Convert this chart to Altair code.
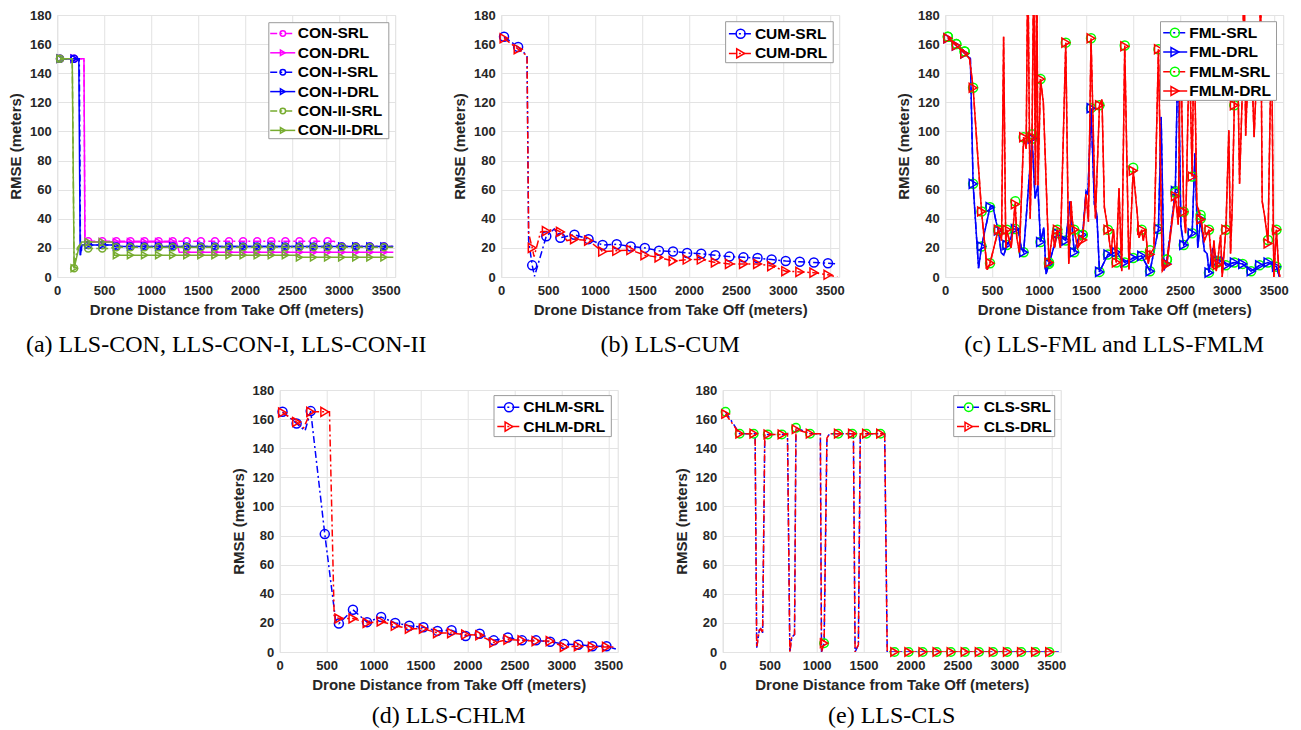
import altair as alt
import pandas as pd

# ------------------------------------------------------------------ data
X_MARK = [30, 180, 330, 480, 630, 780, 930, 1080, 1230, 1380, 1530, 1680,
          1830, 1980, 2130, 2280, 2430, 2580, 2730, 2880, 3030, 3180, 3330, 3480]

# (a) LLS-CON family
CON_SRL_Y = [150, 150, 24.5, 24.5, 24.5, 24.5, 24.5, 24.5, 24.5, 24.5, 24.5, 24.5,
             24.5, 24.5, 24.5, 24.5, 24.5, 24.5, 24.5, 24.5, 21, 21, 21, 21]
CON_SRL_EXTRA = [(285, 150), (295, 24.5), (2950, 24.5), (2990, 21), (3580, 21)]
CON_DRL_Y = [150, 150, 24, 24, 24, 24, 24, 24, 24, 17, 17, 17,
             17, 17, 17, 17, 17, 17, 17, 17, 17, 17, 17, 17]
CON_DRL_EXTRA = [(285, 150), (295, 24), (1270, 24), (1300, 17), (3580, 17)]
CON_I_SRL_Y = [150, 150, 22, 22, 21, 21, 21, 21, 21, 21, 21, 21,
               21, 21, 21, 21, 21, 21, 21, 21, 21, 21, 21, 21]
CON_I_SRL_EXTRA = [(235, 150), (248, 15), (270, 22), (600, 22), (615, 21), (3580, 21)]
CON_I_DRL_Y = [150, 150, 22, 22, 21, 21, 21, 21, 21, 21, 21, 21,
               21, 21, 21, 21, 21, 21, 21, 21, 21, 21, 21, 21]
CON_I_DRL_EXTRA = [(230, 150), (245, 15), (265, 22), (590, 22), (610, 21), (3580, 21)]
CON_II_SRL_Y = [150, 6, 19.5, 19.5, 20.5, 20.5, 20.5, 20.5, 20.5, 20.5, 20.5, 20.5,
                20.5, 20.5, 20.5, 20.5, 20.5, 20.5, 20.5, 20.5, 20.5, 20.5, 20.5, 20.5]
CON_II_SRL_EXTRA = [(160, 150), (215, 20), (250, 23), (560, 19.5), (600, 20.5), (3580, 20.5)]
CON_II_DRL_Y = [150, 6, 24, 24, 15, 15, 15, 15, 15, 15, 15, 15,
                15, 15, 15, 15, 15, 13.5, 13.5, 13.5, 13.5, 13.5, 13.5, 13.5]
CON_II_DRL_EXTRA = [(160, 150), (230, 20), (260, 24), (590, 24), (610, 15),
                    (2540, 15), (2570, 13.5), (3580, 13.5)]

# (b) LLS-CUM
CUM_SRL_Y = [165, 158, 8, 28, 27, 29, 26, 22, 22.5, 21, 20, 18,
             17.5, 16.5, 16, 15, 14, 13.5, 13, 12, 11, 10.5, 10, 9.5]
CUM_SRL_EXTRA = [(275, 152), (292, 25), (355, 0.5), (565, 33), (3580, 9)]
CUM_DRL_Y = [164, 156.5, 20, 31.5, 31, 26, 25, 17.5, 18, 18.5, 15, 13.5,
             11, 12, 12, 10, 9, 9, 9, 7.5, 4, 3.5, 3, 1.5]
CUM_DRL_EXTRA = [(275, 152), (292, 30), (350, 14), (420, 31), (560, 33), (700, 25), (3580, 0)]

# (c) LLS-FML and LLS-FMLM
X_MARK_C = [28, 118, 207, 297, 387, 477, 566, 656, 746, 835, 925, 1015, 1105, 1194,
            1284, 1374, 1464, 1553, 1643, 1733, 1822, 1912, 2002, 2092, 2181, 2271,
            2361, 2451, 2540, 2630, 2720, 2809, 2899, 2989, 3079, 3168, 3258, 3348,
            3438, 3528]
FML_SRL_Y = [165, 160, 155, 64, 21, 48, 32, 22, 33, 17, 95, 24, 9, 30, 25, 17, 29, 116,
             3.5, 15.5, 17, 10, 13, 14.5, 4, 33, 12, 59, 22, 30, 40, 3, 11, 8, 10, 9,
             4, 8, 10, 7]
FML_DRL_Y = [164, 159, 153.5, 64, 21, 48, 32, 22, 33, 17, 95, 24, 9, 30, 25, 17, 29, 116,
             3.5, 15.5, 17, 10, 13, 14.5, 4, 33, 9, 59, 22, 30, 40, 3, 11, 8, 10, 9,
             4, 8, 10, 7]
FML_EXTRA = [(268, 150), (355, 6), (507, 48.8), (542, 38), (596, 16.7), (624, 15),
             (702, 27), (722, 33), (780, 32), (810, 20), (957, 54), (986, 63), (1050, 34),
             (1074, 2), (1163, 22), (1330, 52), (1420, 27), (1500, 59), (1520, 57),
             (1589, 50), (1615, 43), (2300, 110), (2330, 4.6), (2480, 160), (2510, 35),
             (2660, 85), (2690, 20), (2760, 18), (2790, 16), (2850, 20), (2940, 14),
             (3560, 0)]
FMLM_SRL_Y = [165, 160, 155, 130, 45, 9.5, 32.5, 32.5, 52, 96, 98, 136, 10, 32.5, 161,
              32.5, 29, 164, 118, 32.5, 10, 159, 75, 32.5, 18.3, 156.5, 12, 58, 44.8, 69,
              42.6, 32.5, 10, 32.5, 118, 135, 160, 128, 25.4, 32.5]
FMLM_DRL_Y = [164, 159, 153.5, 130, 45, 9.5, 32.5, 32.5, 50, 96, 96, 136, 10, 32.5, 161,
              32.5, 25.5, 164, 118, 32.5, 10, 158.5, 73, 32.5, 15.5, 156.5, 8.7, 55.5,
              44.8, 69, 39.5, 32.5, 8.5, 32.5, 118, 135, 160, 128, 23, 32.5]
FMLM_EXTRA = [(259, 150), (447, 5), (600, 25), (622, 165), (645, 20), (702, 20),
              (762, 27), (790, 17), (862, 88), (880, 220), (905, 40), (943, 220),
              (961, 63), (975, 220), (988, 63), (1045, 120), (1145, 32), (1165, 20),
              (1227, 20), (1316, 9), (1340, 52), (1355, 38), (1410, 20), (1500, 57),
              (1525, 38), (1600, 40), (1670, 122), (1695, 48), (1766, 16), (1791, 33),
              (1851, 61), (1880, 4), (1957, 5), (2046, 43), (2064, 27), (2110, 25),
              (2135, 33), (2163, 9), (2223, 20), (2312, 4), (2482, 36), (2505, 170),
              (2560, 30), (2600, 160), (2650, 170), (2680, 50), (2760, 25), (2844, 6),
              (2862, 25), (2887, 4), (2933, 29), (2950, 0), (3021, 101), (3039, 16),
              (3057, 48), (3110, 170), (3135, 64), (3182, 220), (3200, 97), (3230, 150),
              (3290, 96), (3330, 160), (3358, 220), (3376, 52), (3404, 41), (3475, 170),
              (3500, 0), (3553, 4), (3565, 0)]

# (d) LLS-CHLM
CHLM_SRL_Y = [165, 157, 165.5, 81, 19.5, 29, 20.5, 24, 20, 18, 17, 14.5,
              15, 11, 12.5, 8, 10, 8, 8, 7, 5.5, 5, 4, 4]
CHLM_SRL_EXTRA = [(270, 152), (595, 22), (3580, 2)]
CHLM_DRL_Y = [164.5, 158, 165, 165, 23, 23, 20, 21, 18, 16, 16, 13,
              13, 12, 11.5, 6.5, 8.5, 8, 7.5, 7.5, 3.5, 4, 3.5, 3.5]
CHLM_DRL_EXTRA = [(255, 154), (530, 165), (580, 25), (3580, 3.5)]

# (e) LLS-CLS
CLS_SRL_Y = [165, 150, 150, 149.5, 149.5, 154, 150, 6, 150, 150, 150, 150,
             0, 0, 0, 0, 0, 0, 0, 0, 0, 0, 0, 0]
CLS_DRL_Y = [163.5, 150, 150, 149.5, 149.5, 153, 150, 6, 150, 150, 150, 150,
             0, 0, 0, 0, 0, 0, 0, 0, 0, 0, 0, 0]
CLS_SRL_EXTRA = [(345, 150), (362, 3), (390, 15), (405, 16), (425, 13), (448, 149),
                 (690, 150), (715, 0), (735, 10), (765, 12), (1040, 150), (1052, 0),
                 (1110, 147), (1140, 150), (1392, 150), (1410, 0), (1445, 5), (1465, 150),
                 (1725, 150), (1752, 0), (3580, 0)]
CLS_DRL_EXTRA = [(345, 150), (362, 3), (390, 15), (405, 16), (425, 13), (448, 149),
                 (690, 150), (715, 0), (735, 10), (765, 12), (1040, 150), (1052, 0),
                 (1110, 147), (1140, 150), (1392, 150), (1410, 0), (1445, 5), (1465, 150),
                 (1725, 150), (1752, 0), (3580, 0)]

X_TICKS = [0, 500, 1000, 1500, 2000, 2500, 3000, 3500]
Y_TICKS = [0, 20, 40, 60, 80, 100, 120, 140, 160, 180]

# ------------------------------------------------------------------ style
MAG, BLUE, GRN, RED, LIME = "#FF00FF", "#0000FF", "#77AC30", "#FF0000", "#00FF00"
FONT = "Liberation Sans"
DASH = [7, 3, 2, 3]
W, H = 338, 262

XS = alt.Scale(domain=[0, 3600], nice=False, zero=False)
YS = alt.Scale(domain=[0, 180], nice=False)
XAX = alt.Axis(values=X_TICKS, format="d", title="Drone Distance from Take Off (meters)",
               grid=True, ticks=False, domain=False, labelFont=FONT,
               labelFontWeight="bold", labelFontSize=13, labelColor="#262626",
               labelPadding=7, labelFlush=False, titleFont=FONT, titleFontSize=15,
               titleFontWeight="bold", titleColor="#262626", titlePadding=5.5,
               gridColor="#e3e3e3")
YAX = alt.Axis(values=Y_TICKS, format="d", title="RMSE (meters)", grid=True, ticks=False,
               domain=False, labelFont=FONT, labelFontWeight="bold", labelFontSize=13,
               labelColor="#262626", labelPadding=6, titleFont=FONT, titleFontSize=15,
               titleFontWeight="bold", titleColor="#262626", titlePadding=6,
               gridColor="#e3e3e3")


def line_df(xs, ys, extra):
    pts = list(zip(xs, ys)) + list(extra)
    pts.sort(key=lambda p: p[0])
    return pd.DataFrame(pts, columns=["x", "y"])


def S(name, xs, ys, extra, lc, mc, dash, shape):
    return dict(name=name, xs=xs, ys=ys, extra=extra, lc=lc, mc=mc, dash=dash, shape=shape)


def panel(series, leg, caption, msize, lmsize, cap_offset):
    X = alt.X("x:Q", scale=XS, axis=XAX)
    Y = alt.Y("y:Q", scale=YS, axis=YAX)
    layers = []
    for s in series:
        kw = dict(color=s["lc"], strokeWidth=1.5, clip=True)
        if s["dash"]:
            kw["strokeDash"] = DASH
        layers.append(alt.Chart(line_df(s["xs"], s["ys"], s["extra"]))
                      .mark_line(**kw).encode(x=X, y=Y, order="x:Q"))
        mdf = pd.DataFrame({"x": s["xs"], "y": s["ys"]})
        layers.append(alt.Chart(mdf).mark_point(shape=s["shape"], color=s["mc"],
                                                size=msize, strokeWidth=1.5,
                                                filled=False, opacity=1)
                      .encode(x=X, y=Y))
    # legend (box + rows)
    bx0, bx1, by0, by1, lx0, lx1, mx, tx, rows = leg
    layers.append(alt.Chart(pd.DataFrame({"k": [0]})).mark_rect(
        fill="white", stroke="#9a9a9a", strokeWidth=1).encode(
        x=alt.value(bx0), x2=alt.value(bx1), y=alt.value(by0), y2=alt.value(by1)))
    for s, ry in zip(series, rows):
        d = pd.DataFrame({"label": [s["name"]]})
        kw = dict(color=s["lc"], strokeWidth=1.5)
        if s["dash"]:
            kw["strokeDash"] = DASH
        layers.append(alt.Chart(d).mark_rule(**kw).encode(
            x=alt.value(lx0), x2=alt.value(lx1), y=alt.value(ry)))
        layers.append(alt.Chart(d).mark_point(shape=s["shape"], color=s["mc"],
                                              size=lmsize, strokeWidth=1.5,
                                              filled=False, opacity=1).encode(
            x=alt.value(mx), y=alt.value(ry)))
        layers.append(alt.Chart(d).mark_text(align="left", baseline="middle", font=FONT,
                                             fontWeight="bold", fontSize=15.5,
                                             color="black").encode(
            x=alt.value(tx), y=alt.value(ry), text="label:N"))
    return alt.layer(*layers).properties(
        width=W, height=H,
        title=alt.TitleParams(caption, orient="bottom", anchor="middle",
                              font="Liberation Serif", fontSize=24, fontWeight="normal",
                              color="black", offset=cap_offset))


pa = panel([
    S("CON-SRL", X_MARK, CON_SRL_Y, CON_SRL_EXTRA, MAG, MAG, True, "circle"),
    S("CON-DRL", X_MARK, CON_DRL_Y, CON_DRL_EXTRA, MAG, MAG, False, "triangle-right"),
    S("CON-I-SRL", X_MARK, CON_I_SRL_Y, CON_I_SRL_EXTRA, BLUE, BLUE, True, "circle"),
    S("CON-I-DRL", X_MARK, CON_I_DRL_Y, CON_I_DRL_EXTRA, BLUE, BLUE, False, "triangle-right"),
    S("CON-II-SRL", X_MARK, CON_II_SRL_Y, CON_II_SRL_EXTRA, GRN, GRN, True, "circle"),
    S("CON-II-DRL", X_MARK, CON_II_DRL_Y, CON_II_DRL_EXTRA, GRN, GRN, False, "triangle-right"),
], (211.6, 331.6, 7.7, 123.7, 213, 238, 225.6, 240.6,
    [18.4, 37.8, 57.2, 76.6, 96.0, 115.4]),
    "(a) LLS-CON, LLS-CON-I, LLS-CON-II", 49, 30, 15)

pb = panel([
    S("CUM-SRL", X_MARK, CUM_SRL_Y, CUM_SRL_EXTRA, BLUE, BLUE, True, "circle"),
    S("CUM-DRL", X_MARK, CUM_DRL_Y, CUM_DRL_EXTRA, RED, RED, True, "triangle-right"),
], (224.4, 332, 6.7, 47.7, 227.7, 251, 239.4, 253.7, [18.7, 38.4]),
    "(b) LLS-CUM", 81, 81, 15)

pc = panel([
    S("FML-SRL", X_MARK_C, FML_SRL_Y, FML_EXTRA, BLUE, LIME, True, "circle"),
    S("FML-DRL", X_MARK_C, FML_DRL_Y, FML_EXTRA, BLUE, BLUE, False, "triangle-right"),
    S("FMLM-SRL", X_MARK_C, FMLM_SRL_Y, FMLM_EXTRA, RED, LIME, True, "circle"),
    S("FMLM-DRL", X_MARK_C, FMLM_DRL_Y, FMLM_EXTRA, RED, RED, False, "triangle-right"),
], (215.3, 331.3, 6.7, 85.4, 218, 242, 229.7, 244, [17.7, 37, 56.7, 76]),
    "(c) LLS-FML and LLS-FMLM", 81, 81, 15)

pd_ = panel([
    S("CHLM-SRL", X_MARK, CHLM_SRL_Y, CHLM_SRL_EXTRA, BLUE, BLUE, True, "circle"),
    S("CHLM-DRL", X_MARK, CHLM_DRL_Y, CHLM_DRL_EXTRA, RED, RED, True, "triangle-right"),
], (214.3, 331.6, 5.6, 46.6, 217.6, 241, 229.3, 243.6, [17.3, 36.6]),
    "(d) LLS-CHLM", 81, 81, 11)

pe = panel([
    S("CLS-SRL", X_MARK, CLS_SRL_Y, CLS_SRL_EXTRA, BLUE, LIME, True, "circle"),
    S("CLS-DRL", X_MARK, CLS_DRL_Y, CLS_DRL_EXTRA, RED, RED, True, "triangle-right"),
], (231, 332, 5.6, 46.6, 234.3, 257.7, 246, 261, [17.3, 36.6]),
    "(e) LLS-CLS", 72, 72, 11)

top = alt.hconcat(pa, pb, pc, spacing=106, bounds="flush")
bottom = alt.hconcat(pd_, pe, spacing=105, bounds="flush")
chart = alt.vconcat(top, bottom, spacing=26, center=True).properties(
    padding=0
).configure_view(stroke="#8a8a8a", strokeWidth=1).configure(background="white")

chart.save("out.html", embed_options={"renderer": "svg", "actions": False})
